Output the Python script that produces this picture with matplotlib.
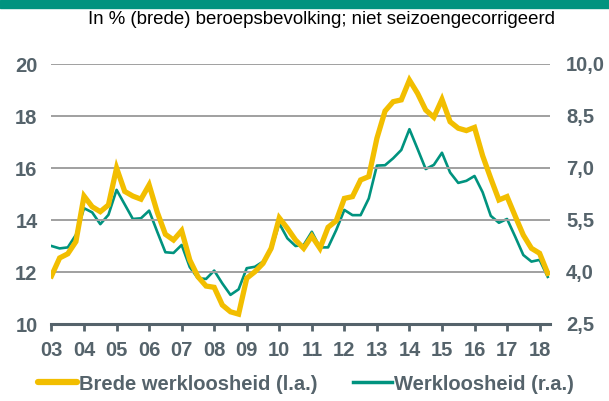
import matplotlib

matplotlib.use("Agg")
import matplotlib.pyplot as plt
import numpy as np
from matplotlib.patches import Rectangle
from matplotlib.ticker import FuncFormatter

plt.rcParams["font.family"] = ["Liberation Sans", "DejaVu Sans"]

# quarterly data, 2003Q1 .. 2018Q2
brede = [
    11.85, 12.54, 12.70, 13.17,
    14.92, 14.51, 14.32, 14.58,
    16.00, 15.10, 14.92, 14.80,
    15.35, 14.30, 13.45, 13.23,
    13.59, 12.46, 11.82, 11.46,
    11.41, 10.73, 10.47, 10.38,
    11.76, 12.01, 12.33, 12.91,
    14.08, 13.68, 13.23, 12.91,
    13.38, 12.91, 13.72, 13.97,
    14.83, 14.90, 15.54, 15.67,
    17.14, 18.19, 18.55, 18.62,
    19.38, 18.87, 18.23, 17.95,
    18.64, 17.78, 17.53, 17.44,
    17.56, 16.47, 15.60, 14.77,
    14.90, 14.15, 13.42, 12.91,
    12.72, 11.95,
]
werkloos = [
    4.75, 4.68, 4.71, 5.07,
    5.84, 5.72, 5.38, 5.65,
    6.37, 5.95, 5.53, 5.55,
    5.77, 5.16, 4.57, 4.55,
    4.78, 4.14, 3.82, 3.80,
    4.04, 3.67, 3.34, 3.50,
    4.11, 4.15, 4.30, 4.64,
    5.40, 4.97, 4.75, 4.78,
    5.16, 4.71, 4.71, 5.21,
    5.79, 5.64, 5.64, 6.12,
    7.07, 7.08, 7.28, 7.52,
    8.12, 7.55, 6.97, 7.09,
    7.44, 6.87, 6.57, 6.63,
    6.77, 6.30, 5.62, 5.42,
    5.53, 5.02, 4.49, 4.30,
    4.35, 3.86,
]
years = list(range(2003, 2019))
year_labels = [f"{y % 100:02d}" for y in years]
left_ticks = [10, 12, 14, 16, 18, 20]
right_ticks = [2.5, 4.0, 5.5, 7.0, 8.5, 10.0]

subtitle = "In % (brede) beroepsbevolking; niet seizoengecorrigeerd"

YELLOW = "#F2BE00"
GREEN = "#00937F"
TEXT = "#55636B"
GRID = "#A0A0A0"
FS = 14.5

t = 2003 + np.arange(len(brede)) * 0.25

fig = plt.figure(figsize=(6.09, 4.01), dpi=100)
fig.patches.append(Rectangle((0, 1 - 8 / 401), 1, 8 / 401, transform=fig.transFigure,
                             color=GREEN, zorder=0))
fig.text(321 / 609, 1 - 19.5 / 401, subtitle, ha="center", va="center", fontsize=13.4, color="black")

ax = fig.add_axes([51.5 / 609, 1 - 324 / 401, (550 - 51.5) / 609, 260 / 401])
ax2 = ax.twinx()

ax.set_xlim(2003, 2018.32)
ax.set_ylim(10, 20)
ax2.set_ylim(2.5, 10)

for v in left_ticks[1:]:
    ax.axhline(v, color=GRID, linewidth=1.4, zorder=1)

ax2.plot(t, werkloos, color=GREEN, linewidth=1.9, zorder=3)
ax.plot(t, brede, color=YELLOW, linewidth=3.8, zorder=2, solid_joinstyle="miter")
ax.set_zorder(ax2.get_zorder() + 1)
ax.patch.set_visible(False)

for a in (ax, ax2):
    for s in ("top", "left", "right"):
        a.spines[s].set_visible(False)
ax.spines["bottom"].set_color(TEXT)
ax.spines["bottom"].set_linewidth(2.2)
ax2.spines["bottom"].set_visible(False)

ax.set_xticks(years)
ax.set_xticklabels(year_labels)
ax.tick_params(axis="x", length=5, width=2, color=TEXT, pad=7,
               labelsize=FS, labelcolor=TEXT)
ax.set_yticks(left_ticks)
ax.tick_params(axis="y", length=0, pad=10, labelsize=FS, labelcolor=TEXT)
ax2.set_yticks(right_ticks)
ax2.yaxis.set_major_formatter(FuncFormatter(lambda v, p: f"{v:.1f}".replace(".", ",")))
ax2.tick_params(axis="y", length=0, pad=11.5, labelsize=FS, labelcolor=TEXT)
for lab in ax.get_xticklabels() + ax.get_yticklabels() + ax2.get_yticklabels():
    lab.set_fontweight("bold")

h1, = ax.plot([], [], color=YELLOW, linewidth=4.5, solid_capstyle="round")
h2, = ax.plot([], [], color=GREEN, linewidth=2.5)
fig.legend([h1, h2], ["Brede werkloosheid (l.a.)", "Werkloosheid (r.a.)"],
           loc="center", bbox_to_anchor=(306 / 609, 1 - 384 / 401), ncol=2, frameon=False,
           handlelength=1.95, handletextpad=0.1, columnspacing=1.75, borderpad=0,
           prop={"size": FS, "weight": "bold"}, labelcolor=TEXT)

fig.savefig("out.png", dpi=100)
